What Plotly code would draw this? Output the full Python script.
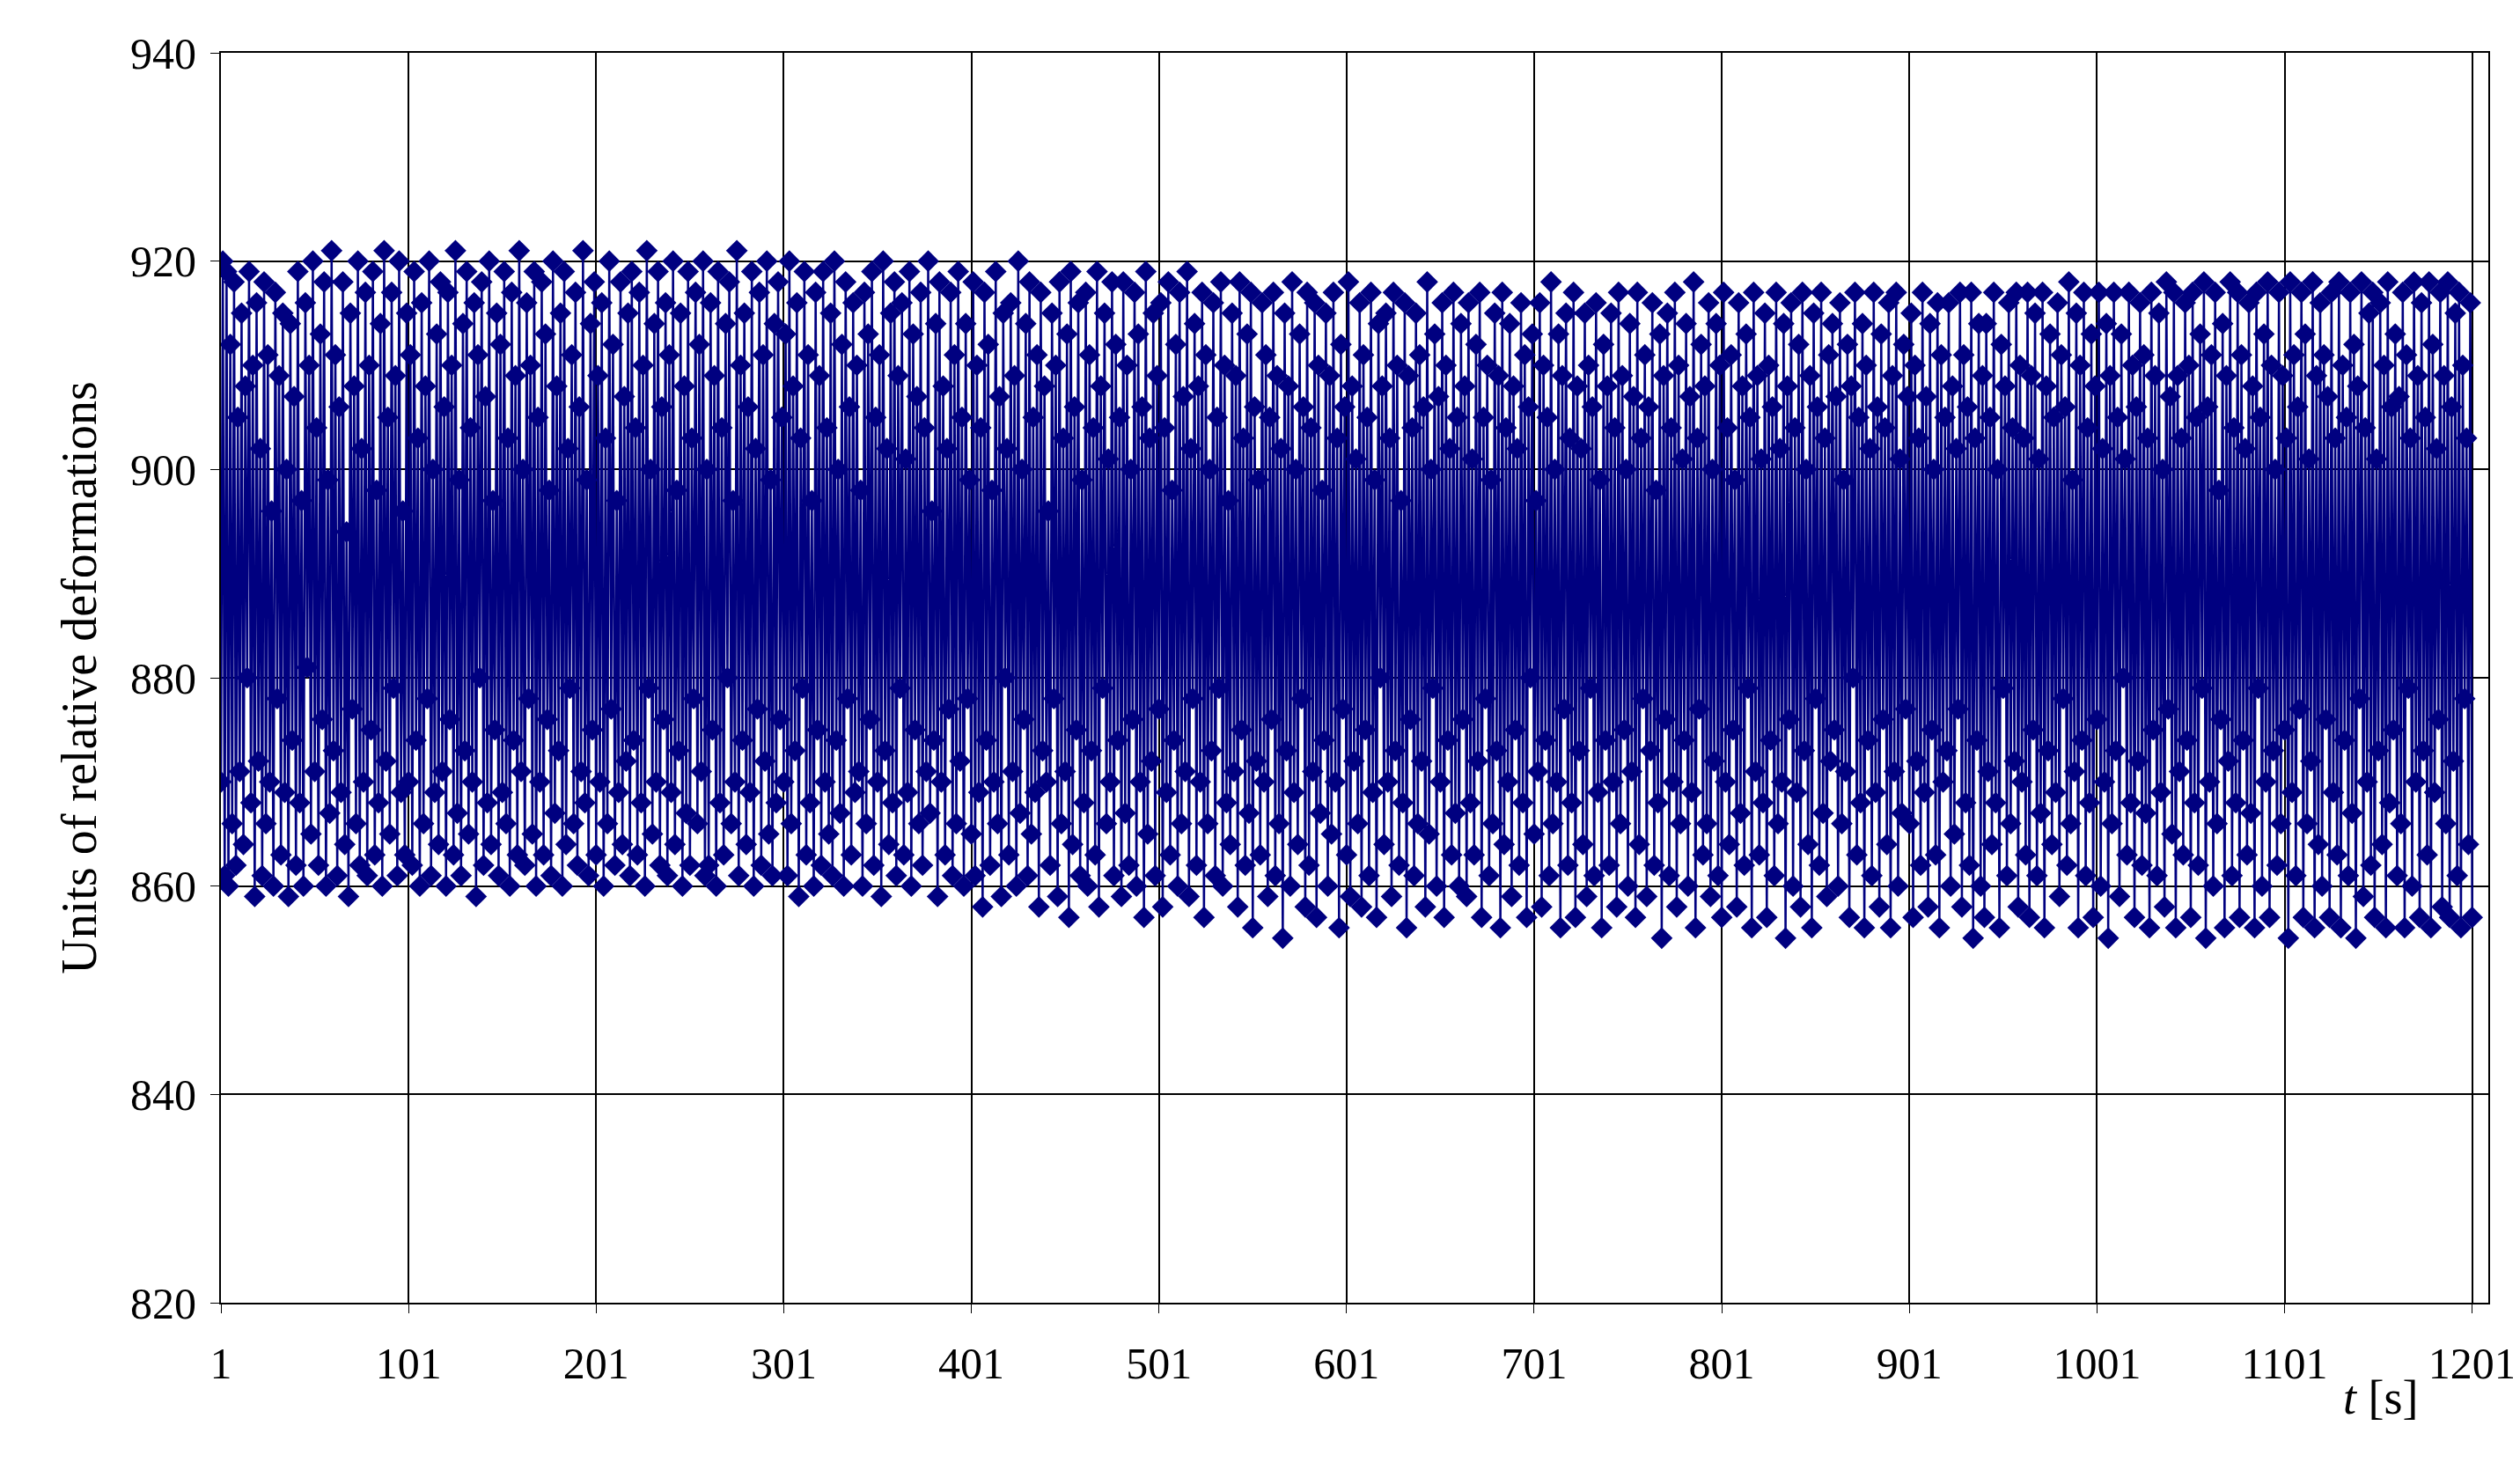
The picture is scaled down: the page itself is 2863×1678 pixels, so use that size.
import plotly.graph_objects as go

# Values read (estimated) from the reference: one reading per second, t = 1..1201
deform = [
870,920,861,919,860,912,866,918,862,905,871,915,864,908,880,919,868,910,859,916,
872,902,861,918,866,911,870,896,860,917,878,909,863,915,869,900,859,914,874,907,
862,919,868,897,860,916,881,910,865,920,871,904,862,913,876,918,860,899,867,921,
873,911,861,906,869,918,864,894,859,915,877,908,866,920,862,902,870,917,861,910,
875,919,863,898,868,914,860,921,872,905,865,917,879,909,861,920,869,896,863,915,
870,911,862,919,874,903,860,916,866,908,878,920,861,900,869,913,864,918,871,906,
860,917,876,910,863,921,867,899,861,914,873,919,865,904,870,916,859,911,880,918,
862,907,868,920,864,897,875,915,861,912,869,919,866,903,860,917,874,909,863,921,
871,900,862,916,878,910,865,919,860,905,870,918,863,913,876,898,861,920,867,908,
873,915,860,919,864,902,879,911,866,917,862,906,871,921,868,899,861,914,875,918,
863,909,870,916,860,903,866,920,877,912,862,897,869,918,864,907,872,915,861,919,
874,904,863,917,868,910,860,921,879,900,865,914,870,919,862,906,876,916,861,911,
869,920,864,898,873,915,860,908,867,919,862,903,878,917,866,912,871,920,861,900,
862,916,875,909,860,919,868,904,863,914,880,918,866,897,870,921,861,910,874,915,
864,906,869,919,860,902,877,917,862,911,872,920,865,899,861,914,868,918,876,905,
870,913,861,920,866,908,873,916,859,903,879,919,863,911,868,897,860,917,875,909,
862,919,870,904,865,915,861,920,874,900,867,912,860,918,878,906,863,916,869,910,
871,898,860,917,866,913,876,919,862,905,870,911,859,920,873,902,864,915,868,918,
861,909,879,916,863,901,869,919,860,913,875,907,866,917,862,904,871,920,867,896,
874,914,859,918,870,908,863,902,877,917,861,911,866,919,872,905,860,914,878,899,
865,918,861,910,869,904,858,917,874,912,862,898,870,919,866,907,859,915,880,902,
863,916,871,909,860,920,867,900,876,914,861,918,865,905,869,911,858,917,873,908,
870,896,862,915,878,910,859,918,866,903,871,913,857,919,864,906,875,916,861,899,
868,917,860,911,873,904,863,919,858,908,879,915,866,901,870,918,861,912,874,905,
859,918,867,910,862,900,876,917,860,913,870,906,857,919,865,903,872,915,861,909,
877,916,858,904,869,918,863,898,874,912,860,917,866,907,871,919,859,902,878,914,
862,908,870,917,857,911,866,900,873,916,861,905,879,918,860,910,868,897,864,915,
871,909,858,918,875,903,862,913,867,917,856,906,872,899,863,916,870,911,859,905,
876,917,861,909,866,902,855,915,873,908,860,918,869,900,864,913,878,906,858,917,
862,904,871,916,857,910,867,898,874,915,860,909,865,917,870,903,856,912,877,906,
863,918,859,908,872,901,866,916,858,911,875,905,861,917,869,899,857,914,880,908,
864,915,870,903,859,917,873,910,862,897,868,916,856,909,876,904,861,915,866,911,
872,906,858,918,865,900,879,913,860,907,870,916,857,910,874,902,863,917,867,905,
860,914,876,908,859,916,868,901,863,912,872,917,857,905,878,910,861,899,866,915,
873,909,856,917,864,904,870,914,859,908,875,902,862,916,868,911,857,906,880,913,
865,897,871,916,858,910,874,905,861,918,866,900,870,913,856,909,877,915,862,903,
868,917,857,908,873,902,864,915,859,910,879,906,861,916,869,899,856,912,874,908,
862,915,870,904,858,917,866,909,875,900,860,914,871,907,857,917,864,903,878,911,
859,906,873,916,862,898,868,913,855,909,876,915,861,904,870,917,858,910,866,901,
874,914,860,907,869,918,856,903,877,912,863,908,866,916,859,900,872,914,861,910,
857,917,870,904,864,911,875,899,858,916,867,908,862,913,879,905,856,917,871,909,
863,901,868,915,857,910,874,906,861,917,866,902,870,914,855,908,876,916,860,904,
869,912,858,917,873,900,864,909,856,915,878,906,862,917,867,903,859,911,872,914,
875,907,860,916,866,899,871,912,857,908,880,917,863,905,868,914,856,910,874,902,
861,917,869,906,858,913,876,904,864,916,856,909,871,917,860,901,867,912,877,907,
866,915,857,910,872,903,862,917,869,907,858,914,875,900,863,916,856,911,870,905,
873,916,860,908,865,902,877,917,858,911,868,906,862,917,855,903,874,914,860,909,
857,914,871,905,864,917,868,900,856,912,879,908,861,916,866,904,872,917,858,910,
870,903,863,917,857,909,875,915,861,901,867,917,856,908,873,913,864,905,869,916,
859,911,878,906,862,918,866,899,871,915,856,910,874,917,861,904,868,913,857,908,
876,917,860,902,870,914,855,909,866,917,873,905,859,913,880,901,863,917,868,910,
857,906,872,916,862,911,867,903,856,917,875,909,861,915,869,900,858,918,877,907,
865,917,856,909,871,903,863,916,874,910,857,917,868,905,862,913,879,918,855,906,
870,911,860,917,866,898,876,914,856,909,872,918,861,904,868,917,857,911,874,902,
863,916,867,908,856,917,879,905,860,913,870,918,857,910,873,900,862,917,866,909,
875,903,855,918,869,911,861,906,877,917,857,913,866,901,872,918,856,909,864,916,
860,911,876,907,857,917,869,903,863,918,856,910,874,905,861,917,867,912,855,908,
878,918,859,904,870,915,862,917,857,901,873,916,864,910,856,918,868,906,875,913,
861,907,866,917,856,911,879,903,860,918,870,909,857,916,873,905,863,918,856,912,
869,902,876,917,858,909,866,918,857,906,872,915,861,917,856,910,878,903,864,916,
857
]
t = list(range(1, len(deform) + 1))

x_ticks = list(range(1, 1202, 100))
y_ticks = [820, 840, 860, 880, 900, 920, 940]

fig = go.Figure(go.Scatter(
    x=t, y=deform, mode="lines+markers",
    line=dict(color="#000080", width=2.5),
    marker=dict(symbol="diamond", size=19, color="#000080"),
))

font = "Liberation Serif, Times New Roman, serif"
ax = dict(showline=True, linecolor="black", linewidth=2, mirror=True,
          showgrid=True, gridcolor="black", gridwidth=1.5, zeroline=False,
          ticks="outside", ticklen=10, tickcolor="black",
          tickfont=dict(family=font, size=50, color="black"))
fig.update_layout(
    width=2863, height=1678, paper_bgcolor="white", plot_bgcolor="white",
    margin=dict(l=243, r=42, t=52, b=206), showlegend=False,
    font=dict(family=font, color="black"),
)
fig.update_xaxes(range=[1, 1209.6], tickvals=x_ticks, ticktext=[str(v) for v in x_ticks],
                 ticklabelstandoff=14, **ax)
fig.update_yaxes(range=[820, 940], tickvals=y_ticks, ticktext=[str(v) for v in y_ticks],
                 ticklabelstandoff=6,
                 title=dict(text="Units of relative deformations", font=dict(family=font, size=56), standoff=20), **ax)
fig.add_annotation(x=0.97, y=0, xref="paper", yref="paper", yshift=-140, showarrow=False,
                   text="<i>t</i> [s]", font=dict(family=font, size=54, color="black"))
fig.write_html("out.html")
